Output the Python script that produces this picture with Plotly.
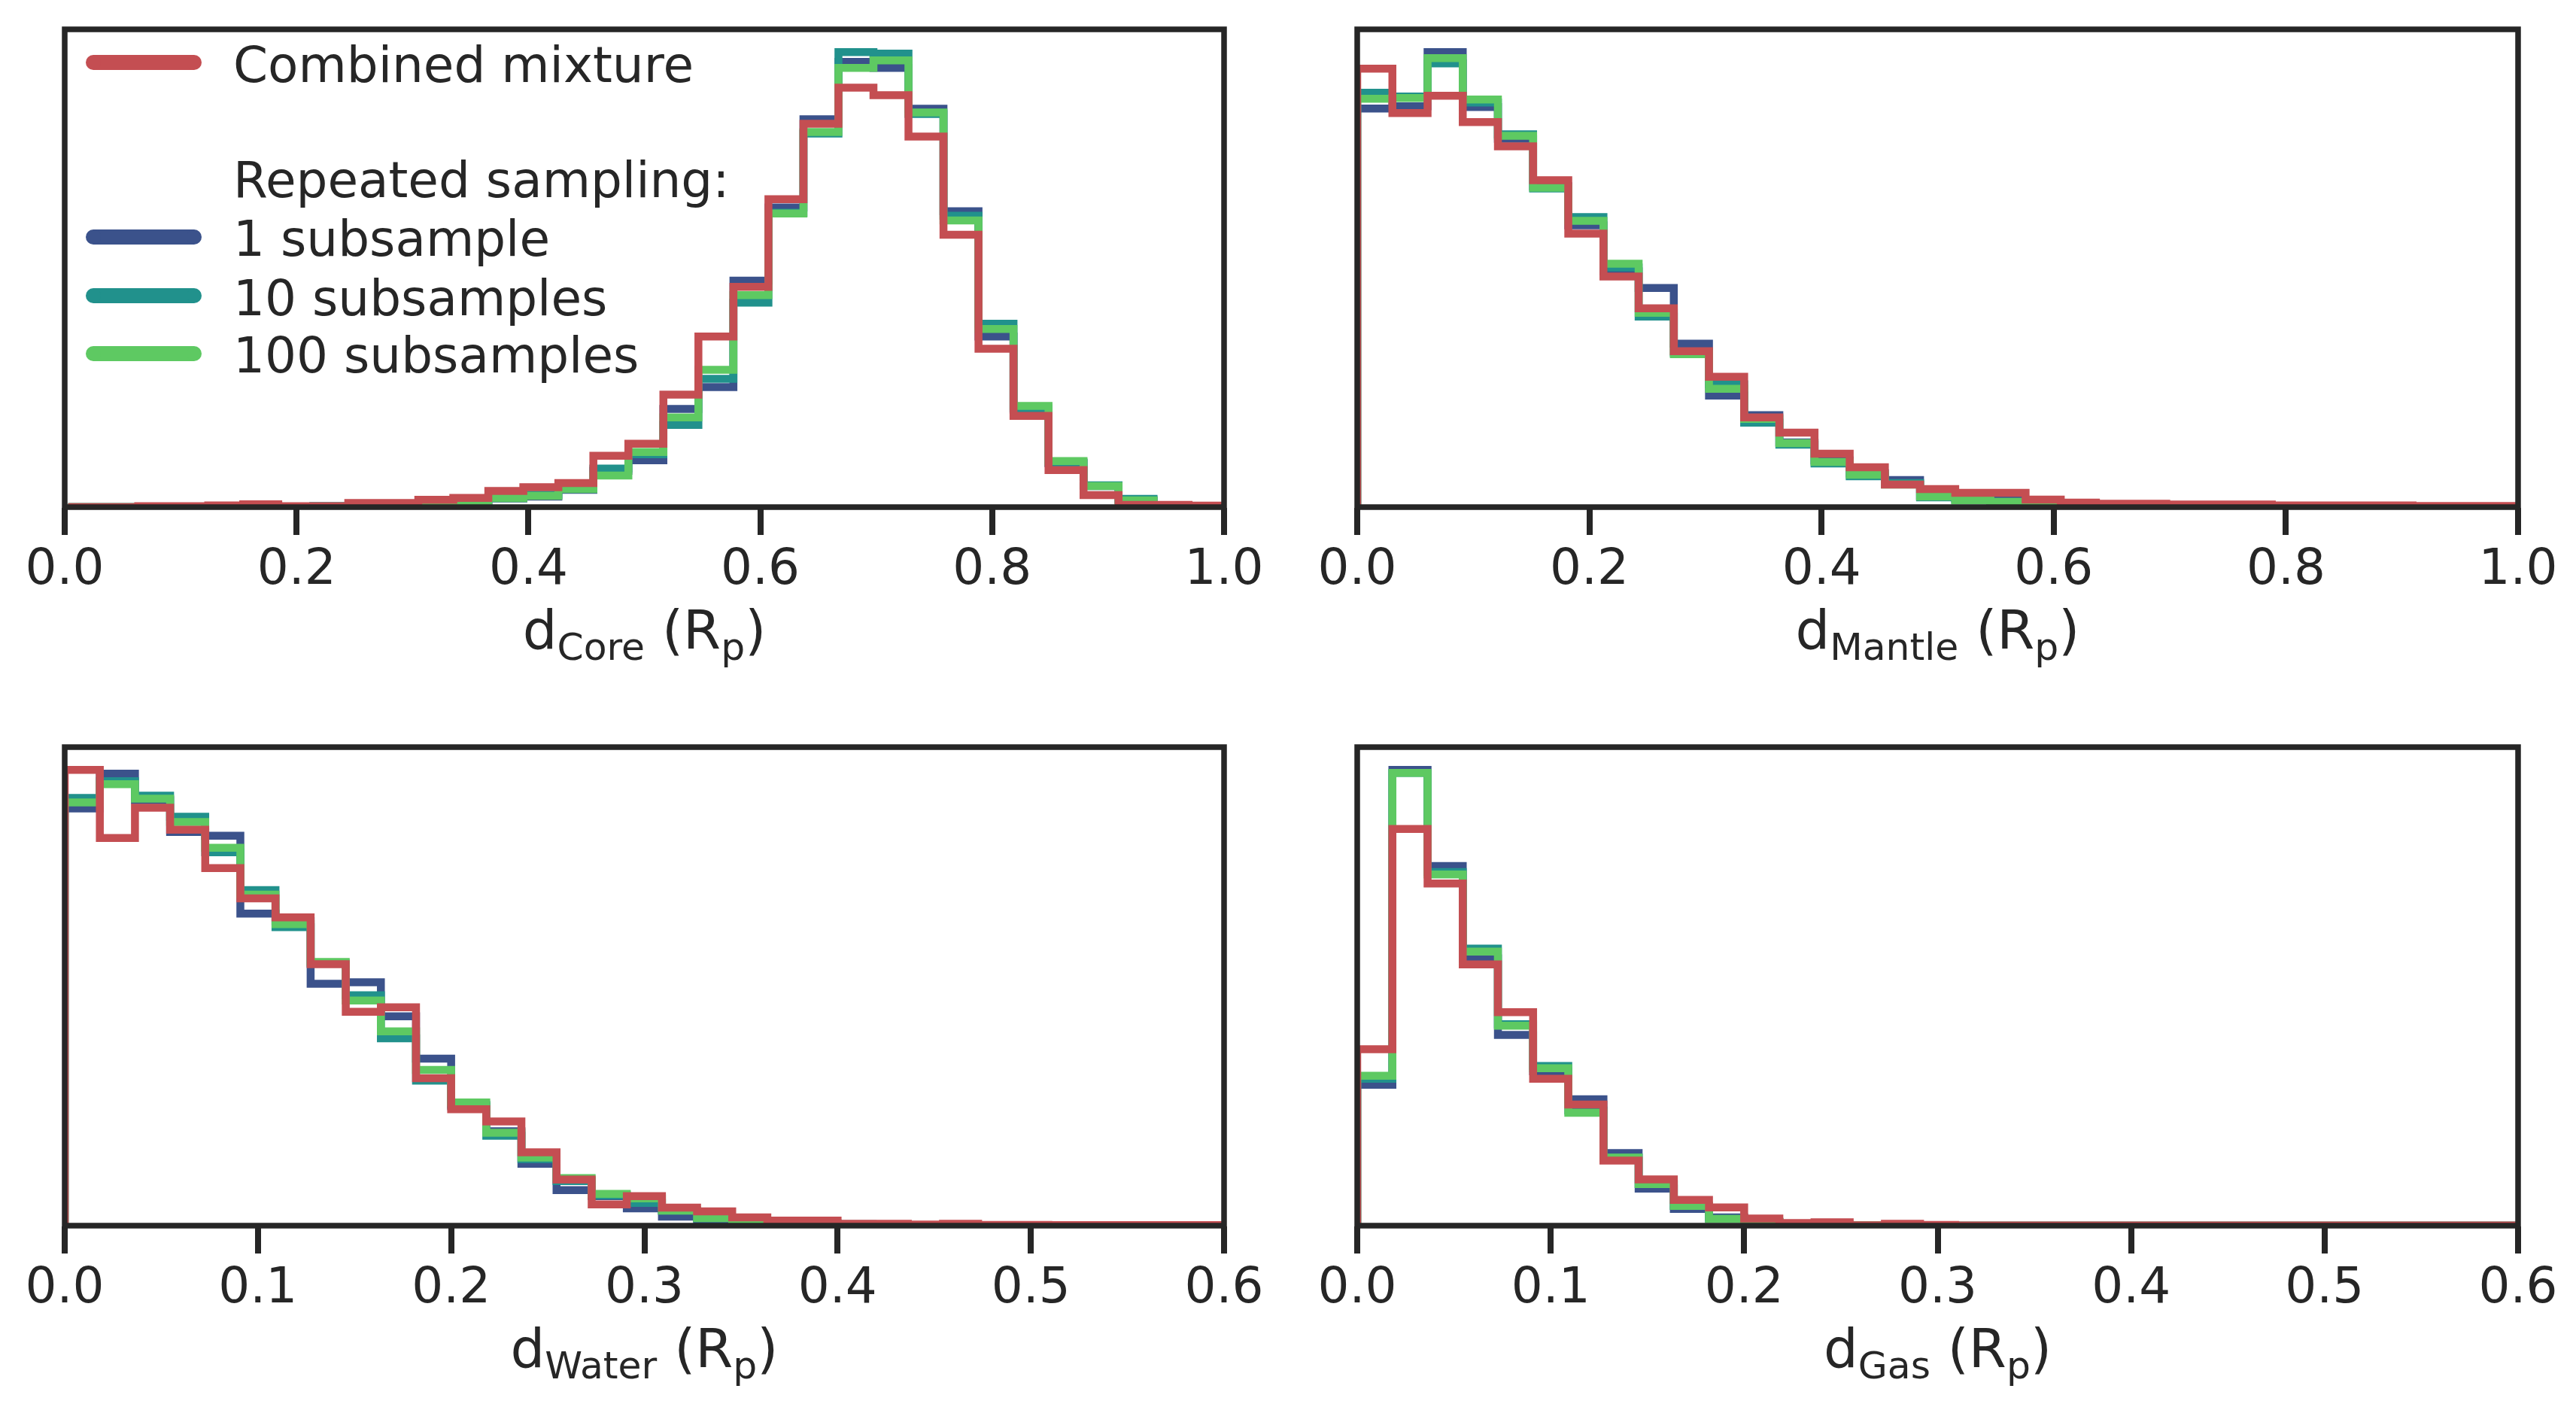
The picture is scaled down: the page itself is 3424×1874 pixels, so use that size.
import numpy as np
import plotly.graph_objects as go

# ---------------- data (histogram heights, arbitrary units) ----------------
n_bins = 33
core_range = (0.003, 0.9996)
mantle_range = (0.0, 1.0)
water_range = (0.0, 0.6)
gas_range = (0.0, 0.6)

core_combined = [0, 0, 1.2, 1.2, 2.2, 3.8, 1.2, 1.2, 5.5, 5.5, 9.8, 12.2, 21.5, 26.5, 32, 68, 84,
                 149, 226, 292, 408, 508, 556, 546, 491, 361, 210, 121, 49, 16, 3, 3, 2]
core_1 = [0, 0, 0, 0, 0, 0, 0, 0, 0.3, 0.5, 0.5, 2, 11.5, 14, 23, 48, 62,
          130, 159, 300, 397, 514, 590, 582, 528, 392, 226, 129, 58, 28, 9, 1.5, 0.5]
core_10 = [0, 0, 0, 0, 0, 0, 0, 1.5, 0.5, 0.5, 1, 3, 12, 16.4, 24, 51, 70,
           109, 170, 271, 390, 495, 603, 601, 521, 386, 243, 131, 59, 29, 11, 1.5, 0.5]
core_100 = [0, 0, 0, 0, 0.3, 0.3, 0.5, 0.5, 0.8, 1, 1.5, 3, 12, 15, 24, 42, 73,
            119, 182, 281, 389, 497, 582, 592, 523, 380, 236, 134, 61, 28, 9, 1.5, 0.5]

mantle_combined = [582, 523, 546, 511, 479, 434, 363, 306, 264, 207, 173, 119, 99, 71, 53, 30, 24,
                   19, 19, 10, 6, 4.5, 4.5, 3.5, 3.5, 3.5, 2.3, 2.3, 2.3, 2.3, 1.5, 1.5, 1.5]
mantle_1 = [529, 532, 604, 531, 489, 426, 374, 313, 291, 217, 148, 122, 86, 62, 45, 36, 15,
            11, 9, 3, 1.5, 1, 0.8, 0.5, 0.5, 0.3, 0.3, 0.3, 0.2, 0.2, 0.2, 0.1, 0.1]
mantle_10 = [550, 545, 589, 537, 495, 423, 385, 318, 253, 205, 163, 112, 83, 58, 41, 32, 13,
             9, 7, 3, 1.5, 1, 0.8, 0.5, 0.5, 0.3, 0.3, 0.3, 0.2, 0.2, 0.2, 0.1, 0.1]
mantle_100 = [542, 543, 596, 541, 493, 424, 380, 323, 258, 203, 157, 117, 85, 60, 43, 30, 14,
              9, 7, 3, 1.5, 1, 0.8, 0.5, 0.5, 0.3, 0.3, 0.3, 0.2, 0.2, 0.2, 0.1, 0.1]

water_combined = [603, 513, 553, 524, 473, 433, 408, 346, 283, 289, 195, 154, 138, 97, 61, 28, 39,
                  24, 19, 11, 6.7, 6.7, 2.5, 2.5, 1.5, 2.5, 1, 1, 0.8, 0.8, 0.8, 0.8, 0.8]
water_1 = [552, 598, 563, 521, 516, 413, 403, 320, 322, 277, 221, 158, 125, 82, 47, 39, 23,
           12, 7, 4, 2, 1.5, 1, 0.8, 0.5, 0.5, 0.3, 0.3, 0.2, 0.2, 0.2, 0.1, 0.1]
water_10 = [566, 588, 569, 541, 494, 444, 395, 347, 305, 248, 192, 160, 119, 88, 59, 40, 30,
            20, 10, 5, 3, 3, 2, 1, 0.5, 0.5, 0.3, 0.3, 0.2, 0.2, 0.2, 0.1, 0.1]
water_100 = [560, 584, 565, 534, 500, 438, 399, 349, 298, 257, 206, 163, 123, 90, 63, 42, 36,
             20, 10, 5, 3, 3, 1.5, 1, 0.5, 0.5, 0.3, 0.3, 0.2, 0.2, 0.2, 0.1, 0.1]

gas_combined = [233, 524, 452, 345, 282, 194, 160, 86, 61, 34, 24, 9.5, 3.5, 4.5, 0.5, 2.5, 1,
                0.3, 0.3, 0.3, 0.3, 0.3, 0.3, 0.3, 0.3, 0.3, 0.3, 0.3, 0.3, 0.3, 0.3, 0.3, 0.3]
gas_1 = [186, 602, 475, 353, 252, 204, 167, 96, 49, 22, 11, 5, 2, 1, 0.5, 0.3, 0.2,
         0.1, 0.1, 0, 0, 0, 0, 0, 0, 0, 0, 0, 0, 0, 0, 0, 0]
gas_10 = [194, 598, 467, 366, 266, 211, 152, 90, 55, 26, 9, 5, 2, 1, 0.5, 0.3, 0.2,
          0.1, 0.1, 0, 0, 0, 0, 0, 0, 0, 0, 0, 0, 0, 0, 0, 0]
gas_100 = [198, 598, 464, 362, 264, 208, 149, 90, 55, 26, 9, 5, 2, 1, 0.5, 0.3, 0.2,
           0.1, 0.1, 0, 0, 0, 0, 0, 0, 0, 0, 0, 0, 0, 0, 0, 0]

series_names = ["1 subsample", "10 subsamples", "100 subsamples", "Combined mixture"]
panel_titles = ["d<sub>Core</sub> (R<sub>p</sub>)", "d<sub>Mantle</sub> (R<sub>p</sub>)",
                "d<sub>Water</sub> (R<sub>p</sub>)", "d<sub>Gas</sub> (R<sub>p</sub>)"]
x_limits = [(0, 1), (0, 1), (0, 0.6), (0, 0.6)]
x_ticks = [[0.0, 0.2, 0.4, 0.6, 0.8, 1.0], [0.0, 0.2, 0.4, 0.6, 0.8, 1.0],
           [0.0, 0.1, 0.2, 0.3, 0.4, 0.5, 0.6], [0.0, 0.1, 0.2, 0.3, 0.4, 0.5, 0.6]]

panels = [
    (core_range, [core_1, core_10, core_100, core_combined]),
    (mantle_range, [mantle_1, mantle_10, mantle_100, mantle_combined]),
    (water_range, [water_1, water_10, water_100, water_combined]),
    (gas_range, [gas_1, gas_10, gas_100, gas_combined]),
]

# ---------------- styling ----------------
W, H = 3424, 1874
colors = ["#3B528B", "#21918C", "#5EC962", "#C44E52"]
ink = "#262626"
font_family = "DejaVu Sans"
fs = 66
title_fs = 72
line_w = 10.5
spine_w = 7.5

def px_x(v):
    return v / W

def px_y(v):
    return 1 - v / H

x_domains = [[px_x(86), px_x(1627)], [px_x(1804), px_x(3347)],
             [px_x(86), px_x(1627)], [px_x(1804), px_x(3347)]]
y_domains = [[px_y(674), px_y(39)], [px_y(674), px_y(39)],
             [px_y(1629), px_y(993)], [px_y(1629), px_y(993)]]

fig = go.Figure()


def step_xy(edges, heights):
    xs = [edges[0]] + list(edges[:-1]) + [edges[-1]]
    ys = [0.0] + list(heights) + [0.0]
    return xs, ys


shapes = []
for p, (rng, series) in enumerate(panels):
    edges = np.linspace(rng[0], rng[1], n_bins + 1)
    ax = "" if p == 0 else str(p + 1)
    for s, heights in enumerate(series):
        xs, ys = step_xy(edges, heights)
        fig.add_trace(go.Scatter(
            x=xs, y=ys, mode="lines", line_shape="hv",
            line=dict(color=colors[s], width=line_w),
            name=series_names[s], showlegend=False, hoverinfo="skip",
            xaxis="x" + ax, yaxis="y" + ax,
        ))
    ymax = max(max(h) for h in series) * 1.05
    common = dict(showline=False, showgrid=False, zeroline=False, automargin=False)
    fig.layout["xaxis" + ax] = dict(
        domain=x_domains[p], range=list(x_limits[p]), anchor="y" + ax,
        tickmode="array", tickvals=x_ticks[p], tickformat=".1f",
        ticks="outside", ticklen=36, tickwidth=spine_w, tickcolor=ink,
        ticklabelstandoff=-14,
        tickfont=dict(family=font_family, size=fs, color=ink),
        title=dict(text=panel_titles[p], font=dict(family=font_family, size=title_fs, color=ink),
                   standoff=20),
        **common)
    fig.layout["yaxis" + ax] = dict(
        domain=y_domains[p], range=[0, ymax], anchor="x" + ax,
        showticklabels=False, ticks="", **common)
    # matplotlib-like spines, centred on the axes edges and drawn above the data
    shapes.append(dict(type="rect", xref="x" + ax + " domain", yref="y" + ax + " domain",
                       x0=0, x1=1, y0=0, y1=1, layer="above",
                       line=dict(color=ink, width=spine_w), fillcolor="rgba(0,0,0,0)"))

# ---------------- legend (drawn manually, matplotlib style) ----------------
legend_rows = [
    ("Combined mixture", colors[3], 83),
    ("Repeated sampling:", None, 237),
    ("1 subsample", colors[0], 315),
    ("10 subsamples", colors[1], 393),
    ("100 subsamples", colors[2], 470),
]
handle_x0, handle_x1, handle_w = 124, 258, 20
annotations = []
for label, col, yc in legend_rows:
    if col is not None:
        shapes.append(dict(type="line", xref="paper", yref="paper",
                           x0=px_x(handle_x0), x1=px_x(handle_x1), y0=px_y(yc), y1=px_y(yc),
                           line=dict(color=col, width=handle_w)))
        for cx in (handle_x0, handle_x1):  # round caps
            shapes.append(dict(type="circle", xref="paper", yref="paper",
                               x0=px_x(cx - handle_w / 2), x1=px_x(cx + handle_w / 2),
                               y0=px_y(yc + handle_w / 2), y1=px_y(yc - handle_w / 2),
                               fillcolor=col, line=dict(width=0)))
    annotations.append(dict(text=label, xref="paper", yref="paper",
                            x=px_x(308), y=px_y(yc + 3), xanchor="left", yanchor="middle",
                            showarrow=False,
                            font=dict(family=font_family, size=fs, color=ink)))

fig.update_layout(
    width=W, height=H,
    margin=dict(l=0, r=0, t=0, b=0, autoexpand=False),
    paper_bgcolor="white", plot_bgcolor="white",
    showlegend=False,
    shapes=shapes, annotations=annotations,
    font=dict(family=font_family, size=fs, color=ink),
)

fig.write_html("out.html", config={"displayModeBar": False},
               post_script="document.body.style.margin='0';document.body.style.overflow='hidden';")
